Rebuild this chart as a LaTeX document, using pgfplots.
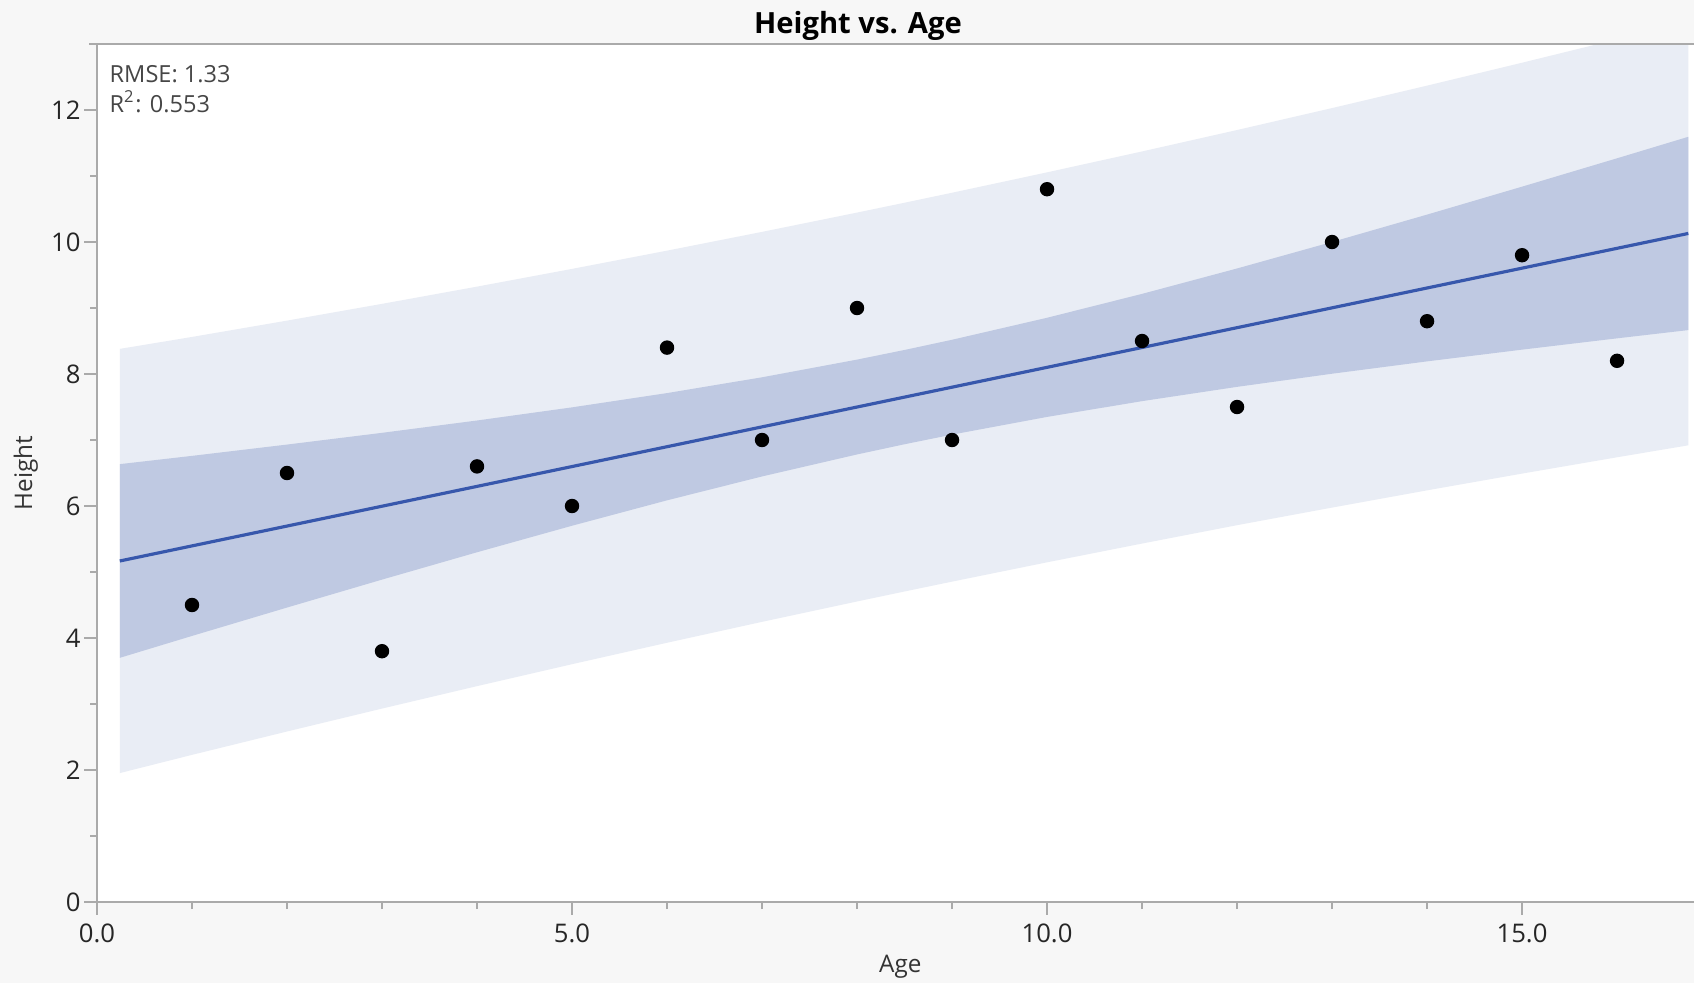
\documentclass[border=0pt]{standalone}
\usepackage{fontspec}
\setmainfont{Open Sans}
\usepackage{pgfplots}
\pgfplotsset{compat=1.18}
\usepackage{pgfplotstable}
\usepgfplotslibrary{fillbetween}

\definecolor{pageback}{RGB}{247,247,247}
\definecolor{predband}{RGB}{233,237,245}
\definecolor{confband}{RGB}{191,201,226}
\definecolor{fitline}{RGB}{55,87,172}
\definecolor{axisgray}{RGB}{170,170,170}
\definecolor{textgray}{RGB}{70,70,70}

% the standard layer set with an extra bottom layer for the grey page
\pgfdeclarelayer{pagebg}
\pgfplotsset{
  layers/pagelayers/.define layer set={
    pagebg, axis background, axis grid, axis ticks, axis lines,
    axis tick labels, pre main, main, axis descriptions, axis foreground
  }{
    grid style={/pgfplots/on layer=axis grid},
    tick style={/pgfplots/on layer=axis ticks},
    axis line style={/pgfplots/on layer=axis lines},
    label style={/pgfplots/on layer=axis descriptions},
    legend style={/pgfplots/on layer=axis descriptions},
    title style={/pgfplots/on layer=axis descriptions},
    colorbar style={/pgfplots/on layer=axis descriptions},
    ticklabel style={/pgfplots/on layer=axis tick labels},
    axis background@ style={/pgfplots/on layer=axis background},
  },
}

% observations
\pgfplotstableread{
age height
1 4.5
2 6.5
3 3.8
4 6.6
5 6.0
6 8.4
7 7.0
8 9.0
9 7.0
10 10.8
11 8.5
12 7.5
13 10.0
14 8.8
15 9.8
16 8.2
}\obs

% least-squares fit with 95% confidence and prediction limits
\pgfplotstableread{
x fit cilo cihi pilo pihi
0.24 5.1671 3.6997 6.6345 1.9537 8.3805
1 5.3956 4.0316 6.7596 2.2297 8.5615
2 5.6962 4.4615 6.9309 2.5838 8.8086
3 5.9968 4.8849 7.1087 2.9310 9.0626
4 6.2974 5.2992 7.2956 3.2710 9.3238
5 6.5979 5.7011 7.4947 3.6034 9.5924
6 6.8985 6.0860 7.7110 3.9282 9.8688
7 7.1991 6.4480 7.9502 4.2450 10.1532
8 7.4997 6.7812 8.2182 4.5538 10.4456
8.5 7.6500 6.9357 8.3643 4.7051 10.5949
9 7.8003 7.0818 8.5188 4.8544 10.7462
10 8.1009 7.3498 8.8520 5.1468 11.0550
11 8.4015 7.5890 9.2140 5.4312 11.3718
12 8.7021 7.8053 9.5989 5.7097 11.6966
13 9.0026 8.0044 10.0008 5.9762 12.0290
14 9.3032 8.1913 10.4151 6.2374 12.3690
15 9.6038 8.3691 10.8385 6.4914 12.7162
16 9.9044 8.5404 11.2684 6.7385 13.0703
16.75 10.1298 8.6655 11.5941 6.9196 13.3402
}\band

\begin{document}
\begin{tikzpicture}
\begin{axis}[
  set layers=pagelayers,
  clip mode=individual,
  at={(9.7mm,8.1mm)}, anchor=south west,
  scale only axis, width=159.7mm, height=85.8mm,
  xmin=0, xmax=16.81, ymin=0, ymax=13,
  axis lines=left,
  axis line style={-, draw=axisgray, line width=0.8pt},
  axis background/.style={fill=white},
  tick align=outside,
  major tick length=1.25mm, minor tick length=0.7mm,
  every tick/.style={axisgray, line width=0.7pt},
  xtick={0,5,10,15}, minor x tick num=4,
  ytick={0,2,4,6,8,10,12}, minor y tick num=1,
  /pgf/number format/assume math mode=true,
  ticklabel style={font=\fontsize{7.3}{8.5}\selectfont, text=black!85},
  yticklabel style={xshift=0.85mm},
  xticklabel style={yshift=0.3mm, /pgf/number format/.cd, fixed, fixed zerofill, precision=1},
  xlabel={Age}, ylabel={Height},
  label style={font=\fontsize{6.9}{8.2}\selectfont, text=black!80},
  xlabel style={at={(axis description cs:0.503,-0.0758)}, anchor=center},
  ylabel style={at={(axis description cs:-0.0445,0.5)}, anchor=center},
]
\begin{pgfonlayer}{pagebg}
\fill[pageback] (rel axis cs:-0.0608,-0.0944) rectangle (rel axis cs:1.0,1.0513);
\end{pgfonlayer}
\addplot[name path=pu, draw=none, forget plot] table[x=x, y=pihi] {\band};
\addplot[name path=pl, draw=none, forget plot] table[x=x, y=pilo] {\band};
\addplot[fill=predband, draw=none] fill between[of=pu and pl];
\addplot[name path=cu, draw=none, forget plot] table[x=x, y=cihi] {\band};
\addplot[name path=cl, draw=none, forget plot] table[x=x, y=cilo] {\band};
\addplot[fill=confband, draw=none] fill between[of=cu and cl];
\addplot[fitline, line width=0.9pt, no marks] table[x=x, y=fit] {\band};
\addplot[only marks, mark=*, mark size=0.65mm, black] table[x=age, y=height] {\obs};
\draw[axisgray, line width=0.8pt] (rel axis cs:-0.005,1) -- (rel axis cs:1,1);
\node[anchor=base west, text=textgray, font=\fontsize{6.7}{8}\selectfont, inner sep=0pt]
  at (axis description cs:0.0075,0.9557) {RMSE: 1.33};
\node[anchor=base west, text=textgray, font=\fontsize{6.7}{8}\selectfont, inner sep=0pt]
  at (axis description cs:0.0075,0.9196) {R\textsuperscript{2}: 0.553};
\node[anchor=center, font=\bfseries\fontsize{8.3}{10}\selectfont, inner sep=0pt]
  at (axis description cs:0.4765,1.0215) {Height vs. Age};
\end{axis}
\pgfresetboundingbox
\useasboundingbox (0,0) rectangle (169.4mm,98.3mm);
\end{tikzpicture}
\end{document}
